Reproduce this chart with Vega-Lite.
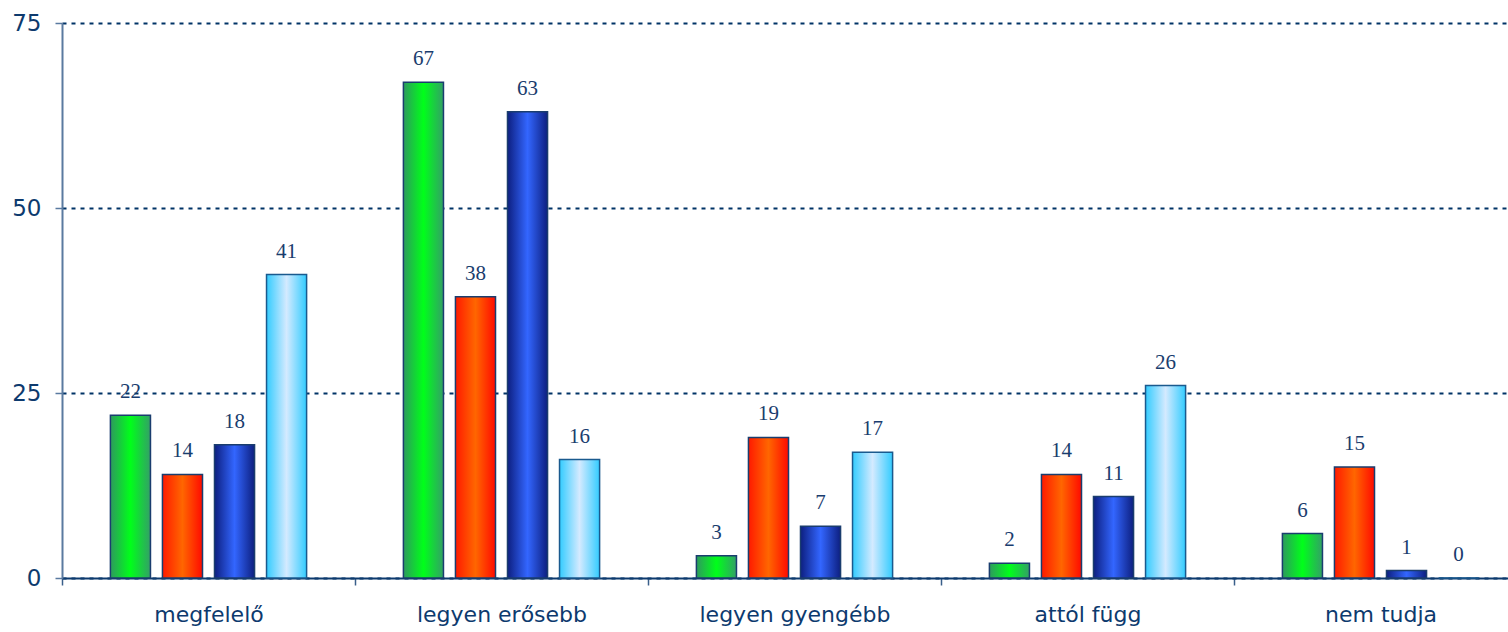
{
  "$schema": "https://vega.github.io/schema/vega-lite/v6.json",
  "autosize": {"type": "none"},
  "padding": {"left": 62, "top": 23, "right": 0, "bottom": 54},
  "width": 1446,
  "height": 555,
  "background": "white",
  "config": {"view": {"stroke": null}},
  "data": {
    "values": [
      {"cat": "megfelelő", "series": "A", "value": 22},
      {"cat": "megfelelő", "series": "B", "value": 14},
      {"cat": "megfelelő", "series": "C", "value": 18},
      {"cat": "megfelelő", "series": "D", "value": 41},
      {"cat": "legyen erősebb", "series": "A", "value": 67},
      {"cat": "legyen erősebb", "series": "B", "value": 38},
      {"cat": "legyen erősebb", "series": "C", "value": 63},
      {"cat": "legyen erősebb", "series": "D", "value": 16},
      {"cat": "legyen gyengébb", "series": "A", "value": 3},
      {"cat": "legyen gyengébb", "series": "B", "value": 19},
      {"cat": "legyen gyengébb", "series": "C", "value": 7},
      {"cat": "legyen gyengébb", "series": "D", "value": 17},
      {"cat": "attól függ", "series": "A", "value": 2},
      {"cat": "attól függ", "series": "B", "value": 14},
      {"cat": "attól függ", "series": "C", "value": 11},
      {"cat": "attól függ", "series": "D", "value": 26},
      {"cat": "nem tudja", "series": "A", "value": 6},
      {"cat": "nem tudja", "series": "B", "value": 15},
      {"cat": "nem tudja", "series": "C", "value": 1},
      {"cat": "nem tudja", "series": "D", "value": 0}
    ]
  },
  "encoding": {
    "x": {
      "field": "cat", "type": "nominal", "sort": null,
      "scale": {"range": [0, 1465], "paddingInner": 0, "paddingOuter": 0},
      "axis": {
        "title": null, "labelAngle": 0, "tickBand": "extent", "labelLimit": 400,
        "labelFont": "DejaVu Sans", "labelFontSize": 22, "labelColor": "#0d3a6e",
        "labelPadding": 19, "tickSize": 7, "tickColor": "#3a5f8a", "tickWidth": 1.5,
        "domainColor": "#0d3a6e", "domainWidth": 2, "grid": false
      }
    },
    "xOffset": {
      "field": "series", "type": "nominal",
      "scale": {"domain": ["A", "B", "C", "D"], "paddingInner": 0.23, "paddingOuter": 0.93}
    },
    "y": {
      "field": "value", "type": "quantitative",
      "scale": {"domain": [0, 75], "nice": false},
      "axis": {
        "title": null, "values": [0, 25, 50, 75],
        "labelFont": "DejaVu Sans", "labelFontSize": 23, "labelColor": "#0d3a6e",
        "labelPadding": 14, "tickSize": 7, "tickColor": "#5a7aa0", "tickWidth": 1.5,
        "domainColor": "#5a7aa0", "domainWidth": 2,
        "grid": true, "gridColor": "#003366", "gridDash": [4, 5], "gridWidth": 2
      }
    }
  },
  "layer": [
    {
      "transform": [{"filter": "datum.series === 'A'"}],
      "mark": {"type": "bar", "stroke": "#1a3d6e", "strokeWidth": 1.5,
        "color": {"gradient": "linear", "x1": 0, "y1": 0, "x2": 1, "y2": 0,
          "stops": [{"offset": 0, "color": "#2e9a5e"}, {"offset": 0.5, "color": "#00ff1a"}, {"offset": 1, "color": "#33a066"}]}}
    },
    {
      "transform": [{"filter": "datum.series === 'B'"}],
      "mark": {"type": "bar", "stroke": "#1a3d6e", "strokeWidth": 1.5,
        "color": {"gradient": "linear", "x1": 0, "y1": 0, "x2": 1, "y2": 0,
          "stops": [{"offset": 0, "color": "#ff1a00"}, {"offset": 0.5, "color": "#ff6600"}, {"offset": 1, "color": "#ff0a00"}]}}
    },
    {
      "transform": [{"filter": "datum.series === 'C'"}],
      "mark": {"type": "bar", "stroke": "#1a3d6e", "strokeWidth": 1.5,
        "color": {"gradient": "linear", "x1": 0, "y1": 0, "x2": 1, "y2": 0,
          "stops": [{"offset": 0, "color": "#0d1f80"}, {"offset": 0.5, "color": "#3366ff"}, {"offset": 1, "color": "#0d1f80"}]}}
    },
    {
      "transform": [{"filter": "datum.series === 'D'"}],
      "mark": {"type": "bar", "stroke": "#1a5a8e", "strokeWidth": 1.5,
        "color": {"gradient": "linear", "x1": 0, "y1": 0, "x2": 1, "y2": 0,
          "stops": [{"offset": 0, "color": "#33ccff"}, {"offset": 0.5, "color": "#d4eaff"}, {"offset": 1, "color": "#33ccff"}]}}
    },
    {
      "mark": {"type": "text", "font": "Liberation Serif", "fontSize": 21, "color": "#1a3d6e", "baseline": "alphabetic", "dy": -17},
      "encoding": {"text": {"field": "value", "type": "quantitative"}}
    }
  ]
}
